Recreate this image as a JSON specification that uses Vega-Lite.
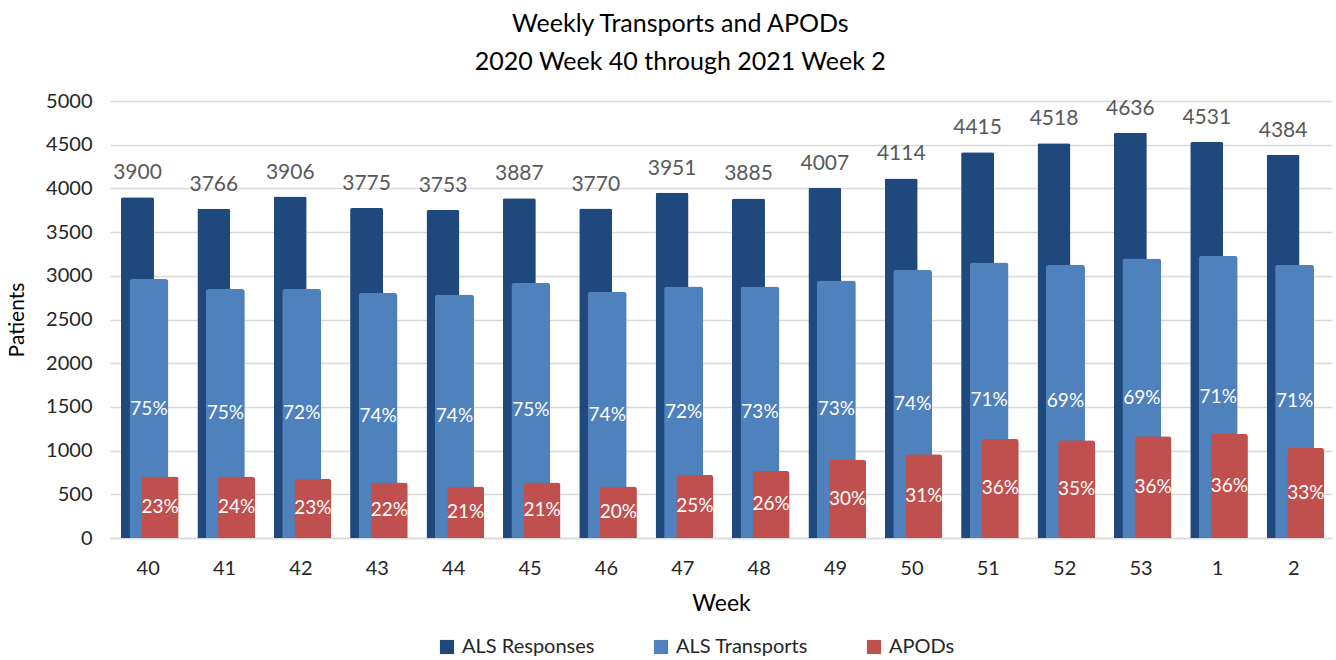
{
  "$schema": "https://vega.github.io/schema/vega-lite/v6.json",
  "autosize": "none",
  "width": 1222,
  "height": 437,
  "padding": {"left": 110, "top": 101, "right": 4, "bottom": 122},
  "background": "white",
  "config": {
    "font": "Lato",
    "view": {"stroke": null}
  },
  "title": {
    "text": ["Weekly Transports and APODs", "2020 Week 40 through 2021 Week 2"],
    "font": "Lato",
    "fontSize": 25,
    "fontWeight": "normal",
    "color": "#000000",
    "anchor": "middle",
    "frame": "bounds",
    "lineHeight": 38,
    "offset": 16,
    "dx": 11
  },
  "data": {
    "values": [
      {"week": "40", "series": "ALS Responses", "value": 3900, "label": "3900"},
      {"week": "41", "series": "ALS Responses", "value": 3766, "label": "3766"},
      {"week": "42", "series": "ALS Responses", "value": 3906, "label": "3906"},
      {"week": "43", "series": "ALS Responses", "value": 3775, "label": "3775"},
      {"week": "44", "series": "ALS Responses", "value": 3753, "label": "3753"},
      {"week": "45", "series": "ALS Responses", "value": 3887, "label": "3887"},
      {"week": "46", "series": "ALS Responses", "value": 3770, "label": "3770"},
      {"week": "47", "series": "ALS Responses", "value": 3951, "label": "3951"},
      {"week": "48", "series": "ALS Responses", "value": 3885, "label": "3885"},
      {"week": "49", "series": "ALS Responses", "value": 4007, "label": "4007"},
      {"week": "50", "series": "ALS Responses", "value": 4114, "label": "4114"},
      {"week": "51", "series": "ALS Responses", "value": 4415, "label": "4415"},
      {"week": "52", "series": "ALS Responses", "value": 4518, "label": "4518"},
      {"week": "53", "series": "ALS Responses", "value": 4636, "label": "4636"},
      {"week": "1", "series": "ALS Responses", "value": 4531, "label": "4531"},
      {"week": "2", "series": "ALS Responses", "value": 4384, "label": "4384"},
      {"week": "40", "series": "ALS Transports", "value": 2963, "label": "75%"},
      {"week": "41", "series": "ALS Transports", "value": 2849, "label": "75%"},
      {"week": "42", "series": "ALS Transports", "value": 2849, "label": "72%"},
      {"week": "43", "series": "ALS Transports", "value": 2803, "label": "74%"},
      {"week": "44", "series": "ALS Transports", "value": 2787, "label": "74%"},
      {"week": "45", "series": "ALS Transports", "value": 2918, "label": "75%"},
      {"week": "46", "series": "ALS Transports", "value": 2818, "label": "74%"},
      {"week": "47", "series": "ALS Transports", "value": 2879, "label": "72%"},
      {"week": "48", "series": "ALS Transports", "value": 2879, "label": "73%"},
      {"week": "49", "series": "ALS Transports", "value": 2947, "label": "73%"},
      {"week": "50", "series": "ALS Transports", "value": 3066, "label": "74%"},
      {"week": "51", "series": "ALS Transports", "value": 3153, "label": "71%"},
      {"week": "52", "series": "ALS Transports", "value": 3127, "label": "69%"},
      {"week": "53", "series": "ALS Transports", "value": 3199, "label": "69%"},
      {"week": "1", "series": "ALS Transports", "value": 3230, "label": "71%"},
      {"week": "2", "series": "ALS Transports", "value": 3127, "label": "71%"},
      {"week": "40", "series": "APODs", "value": 705, "label": "23%"},
      {"week": "41", "series": "APODs", "value": 705, "label": "24%"},
      {"week": "42", "series": "APODs", "value": 678, "label": "23%"},
      {"week": "43", "series": "APODs", "value": 636, "label": "22%"},
      {"week": "44", "series": "APODs", "value": 590, "label": "21%"},
      {"week": "45", "series": "APODs", "value": 636, "label": "21%"},
      {"week": "46", "series": "APODs", "value": 590, "label": "20%"},
      {"week": "47", "series": "APODs", "value": 724, "label": "25%"},
      {"week": "48", "series": "APODs", "value": 767, "label": "26%"},
      {"week": "49", "series": "APODs", "value": 899, "label": "30%"},
      {"week": "50", "series": "APODs", "value": 957, "label": "31%"},
      {"week": "51", "series": "APODs", "value": 1133, "label": "36%"},
      {"week": "52", "series": "APODs", "value": 1117, "label": "35%"},
      {"week": "53", "series": "APODs", "value": 1163, "label": "36%"},
      {"week": "1", "series": "APODs", "value": 1193, "label": "36%"},
      {"week": "2", "series": "APODs", "value": 1030, "label": "33%"}
    ]
  },
  "encoding": {
    "x": {
      "field": "week",
      "type": "ordinal",
      "sort": ["40", "41", "42", "43", "44", "45", "46", "47", "48", "49", "50", "51", "52", "53", "1", "2"],
      "scale": {"paddingInner": 0, "paddingOuter": 0},
      "axis": {
        "title": "Week",
        "titleFont": "Lato",
        "titleFontSize": 23,
        "titleFontWeight": "normal",
        "titleColor": "#000000",
        "titlePadding": 14,
        "labelAngle": 0,
        "labelFont": "Lato",
        "labelFontSize": 20,
        "labelColor": "#262626",
        "labelPadding": 20,
        "ticks": false,
        "domain": true,
        "domainColor": "#D9D9D9",
        "domainWidth": 1.5
      }
    }
  },
  "layer": [
    {
      "transform": [{"filter": {"field": "series", "equal": "ALS Responses"}}],
      "mark": {"type": "bar", "width": 33, "xOffset": -10.7, "cornerRadiusTopLeft": 2, "cornerRadiusTopRight": 2},
      "encoding": {
        "y": {
          "field": "value",
          "type": "quantitative",
          "scale": {"domain": [0, 5000], "nice": false},
          "axis": {
            "title": "Patients",
            "titleFont": "Lato",
            "titleFontSize": 21,
            "titleFontWeight": "normal",
            "titleColor": "#000000",
            "titlePadding": 18,
            "format": "d",
            "values": [0, 500, 1000, 1500, 2000, 2500, 3000, 3500, 4000, 4500, 5000],
            "labelFont": "Lato",
            "labelFontSize": 20,
            "labelColor": "#262626",
            "labelPadding": 18,
            "ticks": false,
            "domain": false,
            "grid": true,
            "gridColor": "#D9D9D9",
            "gridWidth": 1.5
          }
        },
        "color": {
          "field": "series",
          "type": "nominal",
          "scale": {"domain": ["ALS Responses", "ALS Transports", "APODs"], "range": ["#1F497D", "#4F81BD", "#C0504D"]},
          "legend": {
            "title": null,
            "orient": "none",
            "direction": "horizontal",
            "legendX": 327,
            "legendY": 536,
            "symbolType": "square",
            "symbolSize": 200,
            "symbolStrokeWidth": 0,
            "labelFont": "Lato",
            "labelFontSize": 20,
            "labelColor": "#262626",
            "labelOffset": 5,
            "columnPadding": 56,
            "labelLimit": 300
          }
        }
      }
    },
    {
      "transform": [{"filter": {"field": "series", "equal": "ALS Responses"}}],
      "mark": {"type": "text", "xOffset": -10.7, "dy": -24, "baseline": "middle", "fontSize": 21, "font": "Lato", "color": "#595959"},
      "encoding": {
        "y": {"field": "value", "type": "quantitative", "scale": {"domain": [0, 5000], "nice": false}, "axis": null},
        "text": {"field": "label", "type": "nominal"}
      }
    },
    {
      "transform": [{"filter": {"field": "series", "equal": "ALS Transports"}}],
      "mark": {"type": "bar", "width": 39, "xOffset": 0.8, "cornerRadiusTopLeft": 3, "cornerRadiusTopRight": 3},
      "encoding": {
        "y": {"field": "value", "type": "quantitative", "scale": {"domain": [0, 5000], "nice": false}, "axis": null},
        "color": {"field": "series", "type": "nominal"}
      }
    },
    {
      "transform": [{"filter": {"field": "series", "equal": "ALS Transports"}}],
      "mark": {"type": "text", "xOffset": 0.8, "baseline": "middle", "fontSize": 19, "font": "Lato", "color": "#FFFFFF"},
      "encoding": {
        "y": {"field": "value", "type": "quantitative", "scale": {"domain": [0, 10000], "nice": false}, "axis": null},
        "text": {"field": "label", "type": "nominal"}
      }
    },
    {
      "transform": [{"filter": {"field": "series", "equal": "APODs"}}],
      "mark": {"type": "bar", "width": 37, "xOffset": 12, "cornerRadiusTopLeft": 3, "cornerRadiusTopRight": 3},
      "encoding": {
        "y": {"field": "value", "type": "quantitative", "scale": {"domain": [0, 5000], "nice": false}, "axis": null},
        "color": {"field": "series", "type": "nominal"}
      }
    },
    {
      "transform": [{"filter": {"field": "series", "equal": "APODs"}}],
      "mark": {"type": "text", "xOffset": 12, "baseline": "middle", "fontSize": 19, "font": "Lato", "color": "#FFFFFF"},
      "encoding": {
        "y": {"field": "value", "type": "quantitative", "scale": {"domain": [0, 10000], "nice": false}, "axis": null},
        "text": {"field": "label", "type": "nominal"}
      }
    }
  ],
  "resolve": {"scale": {"y": "independent"}}
}
